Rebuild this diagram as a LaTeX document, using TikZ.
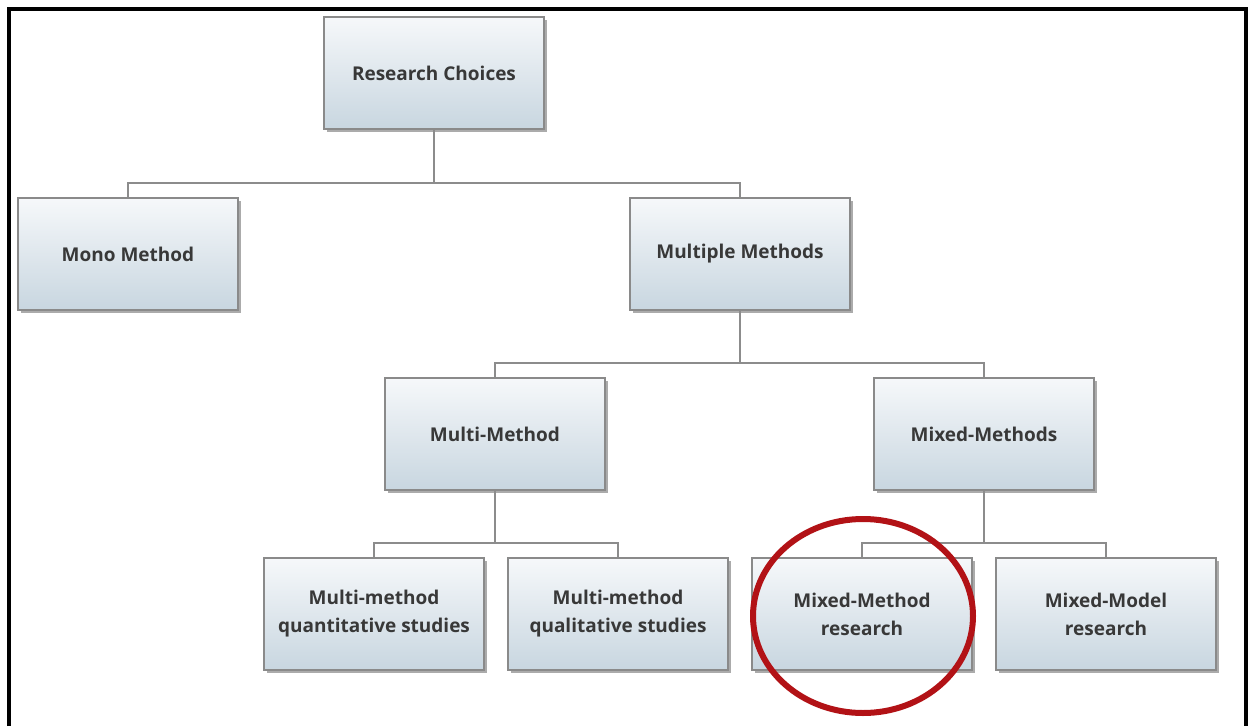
\documentclass[tikz,border=0pt]{standalone}
\usepackage{fontspec}
\setmainfont{Open Sans}
\usetikzlibrary{shadows}
\definecolor{boxtop}{RGB}{246,248,250}
\definecolor{boxbot}{RGB}{200,214,224}
\definecolor{boxline}{RGB}{138,138,138}
\definecolor{linkgray}{RGB}{140,140,140}
\definecolor{labelgray}{RGB}{56,56,56}
\definecolor{ringred}{RGB}{178,18,22}
\begin{document}
\begin{tikzpicture}[x=1pt,y=-1pt,
  orgbox/.style={draw=boxline, line width=1.2pt, top color=boxtop, bottom color=boxbot,
    minimum width=220pt, minimum height=112pt, inner sep=0pt, align=center,
    text=labelgray, font=\fontsize{19}{28}\selectfont\bfseries,
    drop shadow={shadow xshift=3pt, shadow yshift=-3pt, fill=black!55, opacity=0.6}},
  link/.style={draw=linkgray, line width=1.4pt}]
\useasboundingbox (0,0) rectangle (1248,726);
\fill[white] (0,0) rectangle (1248,726);
% outer frame, open at the bottom
\draw[line width=4pt] (9,726) -- (9,8.5) -- (1246,8.5) -- (1246,726);

% boxes
\node[orgbox] (rc)   at (434,73)  {Research Choices};
\node[orgbox] (mono) at (128,254) {Mono Method};
\node[orgbox] (mult) at (740,254) {Multiple Methods};
\node[orgbox] (mm)   at (495,434) {Multi-Method};
\node[orgbox] (mix)  at (984,434) {Mixed-Methods};
\node[orgbox] (quan) at (374,614) {Multi-method\\quantitative studies};
\node[orgbox] (qual) at (618,614) {Multi-method\\qualitative studies};
\node[orgbox] (mmr)  at (862,614) {Mixed-Method\\research};
\node[orgbox] (mdr)  at (1106,614) {Mixed-Model\\research};

% connectors
\coordinate (j1) at (434,183);
\coordinate (j2) at (740,363);
\coordinate (j3) at (495,543);
\coordinate (j4) at (984,543);
\draw[link] (rc.south) -- (j1);
\draw[link] (mono.north) |- (j1) -| (mult.north);
\draw[link] (mult.south) -- (j2);
\draw[link] (mm.north) |- (j2) -| (mix.north);
\draw[link] (mm.south) -- (j3);
\draw[link] (quan.north) |- (j3) -| (qual.north);
\draw[link] (mix.south) -- (j4);
\draw[link] (mmr.north) |- (j4) -| (mdr.north);

% highlight ring
\draw[ringred, line width=6pt] (863,616) ellipse [x radius=110, y radius=97];
\end{tikzpicture}
\end{document}
